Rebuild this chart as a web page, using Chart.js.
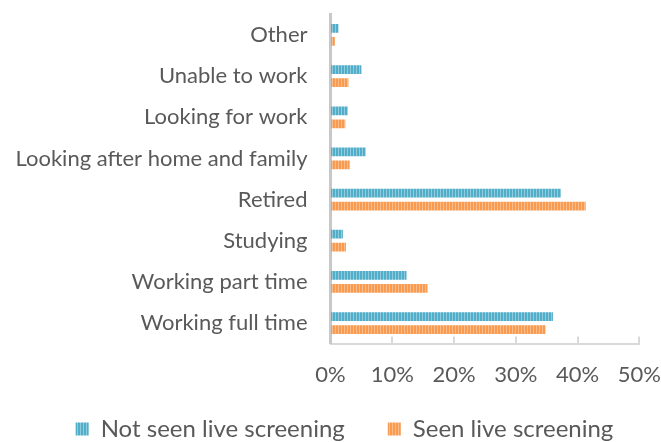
<!DOCTYPE html>
<html>
<head>
<meta charset="utf-8">
<script src="https://cdn.jsdelivr.net/npm/chart.js@4"></script>
<style>
  body { margin: 0; background: #fff; }
</style>
</head>
<body>
<canvas id="chart" width="661" height="442"></canvas>
<script>
var categories = ["Other", "Unable to work", "Looking for work", "Looking after home and family",
                  "Retired", "Studying", "Working part time", "Working full time"];
var notSeen = [1.3, 5.0, 2.8, 5.7, 37.3, 2.0, 12.3, 36.0];
var seen    = [0.7, 2.9, 2.4, 3.1, 41.3, 2.5, 15.7, 34.8];
var seriesNames = ["Not seen live screening", "Seen live screening"];

// striped fill like the excel texture
function stripes(dark, light) {
    var c = document.createElement('canvas');
    c.width = 3; c.height = 4;
    var g = c.getContext('2d');
    g.fillStyle = dark;
    g.fillRect(0, 0, 3, 4);
    g.fillStyle = light;
    g.fillRect(2, 0, 1, 4);
    return g.createPattern(c, 'repeat');
}
var blue = stripes('#52adc8', '#8fcbdd');
var orange = stripes('#f89a50', '#fbbc8c');

var textColor = '#595959';
var axisFont = { family: 'Lato', size: 22 };
var legendFont = { family: 'Lato', size: 24 };

// small upward tick marks on the value axis
var tickMarks = {
    id: 'tickMarks',
    afterDraw: function (chart) {
        var x = chart.scales.x, ctx = chart.ctx;
        ctx.save();
        ctx.strokeStyle = '#d9d9d9';
        ctx.lineWidth = 2;
        for (var i = 1; i < x.ticks.length; i++) {
            var px = Math.round(x.getPixelForTick(i));
            ctx.beginPath();
            ctx.moveTo(px, x.top);
            ctx.lineTo(px, x.top - 7);
            ctx.stroke();
        }
        ctx.restore();
    }
};

// excel puts the legend a bit right of centre and close under the axis labels
var legendNudge = {
    id: 'legendNudge',
    afterLayout: function (chart) {
        var lg = chart.legend;
        lg.left += 15; lg.right += 15;
        lg.top -= 14;
        lg.bottom = chart.height;
    }
};

var ctx = document.getElementById('chart').getContext('2d');
var chart = new Chart(ctx, {
    type: 'bar',
    data: {
        labels: categories,
        datasets: [{
            label: seriesNames[0],
            data: notSeen,
            backgroundColor: blue,
            categoryPercentage: 0.632,
            barPercentage: 0.67
        }, {
            label: seriesNames[1],
            data: seen,
            backgroundColor: orange,
            categoryPercentage: 0.632,
            barPercentage: 0.67
        }]
    },
    options: {
        indexAxis: 'y',
        responsive: false,
        animation: false,
        layout: { padding: { left: 0, right: 2, top: 14.4, bottom: 0 } },
        scales: {
            x: {
                min: 0,
                max: 50,
                ticks: {
                    stepSize: 10,
                    color: textColor,
                    font: axisFont,
                    padding: 0,
                    callback: function (v) { return v + '%'; }
                },
                grid: { drawOnChartArea: false, drawTicks: true, tickLength: 18, tickColor: 'transparent' },
                border: { color: '#d9d9d9', width: 2 }
            },
            y: {
                ticks: { color: textColor, font: axisFont, padding: 0 },
                grid: { drawOnChartArea: false, drawTicks: true, tickLength: 23, tickColor: 'transparent' },
                border: { color: '#c8c8c8', width: 3 },
                afterFit: function (s) { s.width = 330.5; }
            }
        },
        plugins: {
            legend: {
                position: 'bottom',
                maxHeight: 54,
                labels: {
                    color: textColor,
                    font: legendFont,
                    boxWidth: 13,
                    boxHeight: 13,
                    padding: 43
                }
            },
            tooltip: { enabled: false }
        }
    },
    plugins: [tickMarks, legendNudge]
});
</script>
</body>
</html>
